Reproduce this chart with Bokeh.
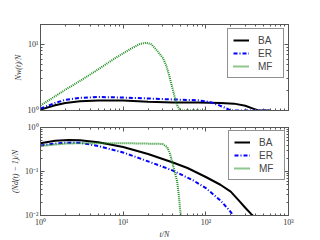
from bokeh.plotting import figure
from bokeh.layouts import column
from bokeh.models import Range1d, LogAxis, FixedTicker, CustomJSTickFormatter, Legend, LegendItem
from bokeh.embed import file_html
from bokeh.resources import INLINE

# ---- data ----
labels = ["BA", "ER", "MF"]

top_t_ba = [1, 1.5, 2, 3, 5, 10, 20, 40, 80, 150, 220, 300, 380, 430, 600]
top_v_ba = [1.03, 1.2, 1.3, 1.38, 1.42, 1.42, 1.36, 1.32, 1.32, 1.3, 1.27, 1.18, 1.06, 1.0, 1.0]

top_t_er = [1, 1.5, 2, 3, 5, 10, 20, 40, 80, 110, 140, 170, 200, 600]
top_v_er = [1.07, 1.3, 1.45, 1.55, 1.6, 1.57, 1.52, 1.47, 1.43, 1.35, 1.22, 1.1, 1.0, 1.0]

top_t_mf = [1, 1.5, 2, 3, 5, 8, 12, 16, 19, 22, 26, 30, 33, 36, 39, 42, 45, 49, 100]
top_v_mf = [1.19, 1.64, 2.06, 2.8, 4.2, 6.2, 8.4, 10.2, 10.6, 10.0, 7.9, 6.3, 4.9, 3.4, 2.3, 1.6, 1.2, 1.0, 1.0]

bot_t_ba = [1, 1.5, 2.2, 3, 5, 10, 20, 40, 60, 100, 150, 200, 250, 300, 350, 380]
bot_v_ba = [0.44, 0.5, 0.52, 0.51, 0.46, 0.36, 0.25, 0.16, 0.12, 0.075, 0.05, 0.035, 0.022, 0.015, 0.011, 0.0095]

bot_t_er = [1, 1.5, 2, 3, 5, 10, 20, 40, 70, 100, 150, 200, 220]
bot_v_er = [0.39, 0.43, 0.45, 0.45, 0.38, 0.27, 0.17, 0.105, 0.063, 0.042, 0.022, 0.012, 0.0095]

bot_t_mf = [1, 1.5, 2, 3, 5, 10, 20, 25, 30, 34, 37, 39, 42, 45, 47, 49, 50]
bot_v_mf = [0.38, 0.41, 0.43, 0.44, 0.44, 0.44, 0.43, 0.43, 0.42, 0.36, 0.25, 0.17, 0.1, 0.06, 0.03, 0.013, 0.0095]

x_major = [1, 10, 100, 1000]
top_y_major = [1, 10]
bot_y_major = [0.01, 0.1, 1]

colors = ["black", "#0000ff", "#1f8f1f"]
dashes = ["solid", "4 2 1 2", "1 1"]

SERIF = "Liberation Serif"
SANS = "Liberation Sans"
FRAME = "#555555"

sup_code = """
const sup = {'-':'\u207b','0':'\u2070','1':'\u00b9','2':'\u00b2','3':'\u00b3','4':'\u2074','5':'\u2075','6':'\u2076','7':'\u2077','8':'\u2078','9':'\u2079'};
const e = Math.round(Math.log10(tick));
return '10' + String(e).split('').map(c => sup[c]).join('');
"""
blank_code = "return '';"


def minors(majors, hi):
    out = []
    for m in majors:
        for k in range(2, 10):
            v = m * k
            if v <= hi:
                out.append(v)
    return out


x_range = Range1d(1, 1000)


def style_axis(ax, majors, hi, show_labels):
    ax.axis_line_color = FRAME
    ax.major_tick_line_color = FRAME
    ax.minor_tick_line_color = FRAME
    ax.major_tick_in = 4
    ax.major_tick_out = 0
    ax.minor_tick_in = 2
    ax.minor_tick_out = 0
    ax.ticker = FixedTicker(ticks=majors, minor_ticks=minors(majors, hi))
    ax.major_label_text_font = SERIF
    ax.axis_label_text_font = SERIF
    ax.axis_label_text_font_style = "italic"
    ax.axis_label_text_font_size = "8px"
    ax.axis_label_text_color = "#333333"
    ax.major_label_text_color = "#333333"
    ax.major_label_text_font_size = "8px"
    ax.axis_label_standoff = 2
    if show_labels:
        ax.formatter = CustomJSTickFormatter(code=sup_code)
        ax.major_label_standoff = 2
    else:
        ax.formatter = CustomJSTickFormatter(code=blank_code)
        ax.major_label_standoff = 0


def make_fig(frame_h, ylo, yhi, ymaj, ylabel, series, show_x, min_top, min_bottom, leg_margin):
    p = figure(frame_width=248, frame_height=frame_h, x_axis_type="log", y_axis_type="log",
               x_range=x_range, y_range=Range1d(ylo, yhi),
               output_backend="svg", toolbar_location=None,
               min_border_left=40, min_border_right=10,
               min_border_top=min_top, min_border_bottom=min_bottom)
    p.grid.visible = False
    p.outline_line_color = FRAME
    p.background_fill_color = "white"
    p.border_fill_color = "white"
    style_axis(p.xaxis[0], x_major, 1000, show_x)
    style_axis(p.yaxis[0], ymaj, yhi, True)
    p.yaxis[0].axis_label = ylabel
    if show_x:
        p.xaxis[0].axis_label = "t/N"
        p.xaxis[0].axis_label_standoff = 0
    top_ax = LogAxis()
    right_ax = LogAxis()
    style_axis(top_ax, x_major, 1000, False)
    style_axis(right_ax, ymaj, yhi, False)
    p.add_layout(top_ax, "above")
    p.add_layout(right_ax, "right")

    items = []
    for (t, v), lab, c, d in zip(series, labels, colors, dashes):
        r = p.line(t, v, line_color=c, line_width=2, line_dash=d)
        items.append(LegendItem(label=lab, renderers=[r]))
    leg = Legend(items=items, location="top_right")
    leg.margin = leg_margin
    leg.padding = 5
    leg.spacing = 1
    leg.label_height = 12
    leg.glyph_height = 12
    leg.glyph_width = 16
    leg.label_standoff = 9
    leg.label_text_font = SANS
    leg.label_text_font_size = "10px"
    leg.border_line_color = "#222222"
    leg.border_line_width = 1
    leg.background_fill_alpha = 1.0
    p.add_layout(leg, "center")
    return p


p1 = make_fig(86, 1, 20, top_y_major, "Nw(t)/N",
              [(top_t_ba, top_v_ba), (top_t_er, top_v_er), (top_t_mf, top_v_mf)],
              False, 24, 8, 4)
p2 = make_fig(88, 0.01, 1, bot_y_major, "(Nd(t) \u2212 1)/N",
              [(bot_t_ba, bot_v_ba), (bot_t_er, bot_v_er), (bot_t_mf, bot_v_mf)],
              True, 9, 17, 3)

layout = column(p1, p2, spacing=0)
open("out.html", "w").write(file_html(layout, INLINE))
